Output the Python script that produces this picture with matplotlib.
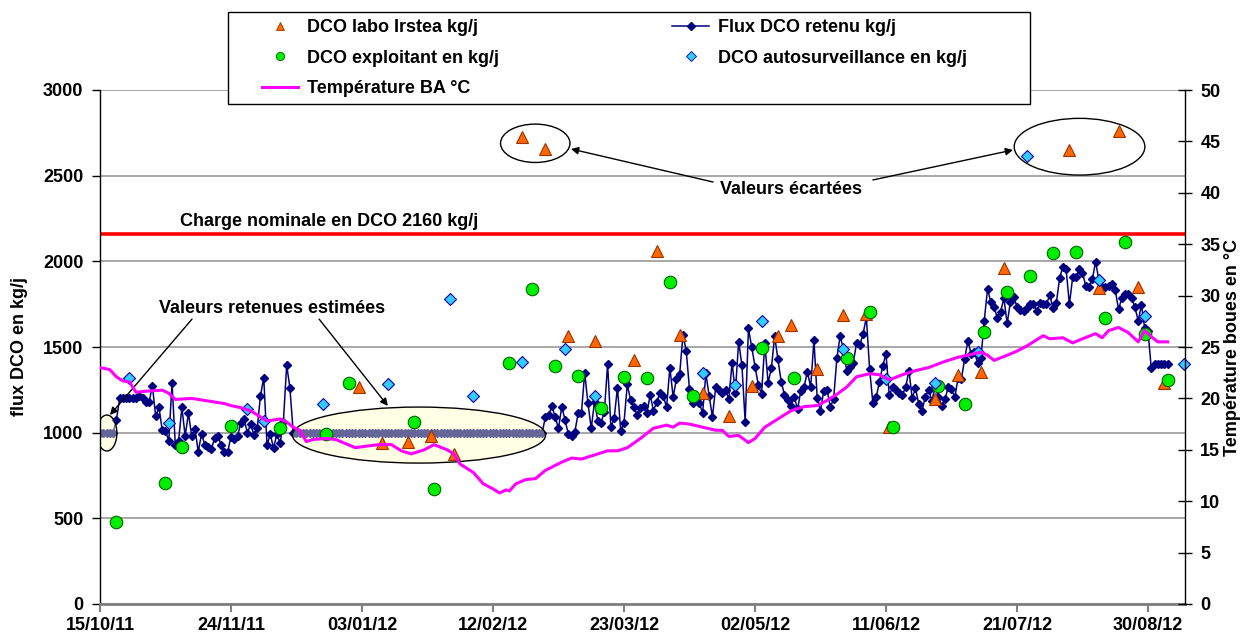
import numpy as np
import pandas as pd
import matplotlib
matplotlib.use("Agg")
import matplotlib.pyplot as plt
import matplotlib.dates as mdates
from matplotlib.ticker import FixedLocator
from matplotlib.lines import Line2D
from matplotlib.patches import Ellipse, Rectangle

plt.rcParams['font.family'] = ['Liberation Sans', 'DejaVu Sans']
plt.rcParams['font.weight'] = 'bold'
FS = 13

# ── data (jours depuis le 15/10/11) ──
START = pd.Timestamp('2011-10-15')

flux_measured_1 = [1000, 1000, 1000, 1000, 1000, 1074,
                   1200, 1200, 1200, 1200, 1200, 1200,
                   1216, 1200, 1181, 1181, 1272, 1097, 1148, 1016, 1010, 953,
                   1288, 928, 953, 1148, 981, 1113, 981, 1021, 889, 992,
                   928, 918, 905, 967, 981, 928, 889, 889, 977, 961,
                   981, 1058, 1078, 1000, 1049, 986, 1025, 1216, 1321, 928,
                   992, 909, 992, 938, 1064, 1395, 1259]
flux_estimated = [1000] * 77
flux_measured_2 = [1090, 1103, 1156, 1090, 1025, 1152, 1074, 992, 983, 1006,
                   1113, 1113, 1350, 1171, 1025, 1181, 1070, 1058, 1122, 1401,
                   1031, 1084, 1263, 1012, 1058, 1282, 1191, 1148, 1103, 1142,
                   1156, 1117, 1220, 1128, 1181, 1233, 1214, 1148, 1379, 1210,
                   1311, 1342, 1570, 1479, 1253, 1175, 1195, 1175, 1113, 1346,
                   1214, 1093, 1265, 1249, 1230, 1249, 1195, 1408, 1233, 1531,
                   1395, 1064, 1609, 1498, 1385, 1278]
flux_measured_3 = [1226, 1521, 1292, 1376, 1564, 1428, 1298, 1220, 1191, 1156,
                   1210, 1136, 1245, 1269, 1356, 1265, 1541, 1201, 1128, 1245,
                   1249, 1152, 1195, 1434, 1564, 1487, 1362, 1385, 1408, 1521,
                   1512, 1576, 1673, 1370, 1171, 1206, 1298, 1389, 1459, 1220,
                   1265, 1249, 1233, 1220, 1265, 1362, 1201, 1259, 1167, 1128,
                   1210, 1249, 1187, 1265, 1210, 1156, 1195, 1265, 1253, 1206,
                   1317, 1311, 1428, 1537, 1459, 1473, 1405, 1434]
flux_measured_4 = [1654, 1837, 1765, 1732, 1671, 1707, 1784, 1638, 1765, 1794,
                   1735, 1716, 1712, 1726, 1751, 1751, 1712, 1755, 1751, 1751,
                   1803, 1726, 1755, 1901, 1969, 1953, 1749, 1907, 1911, 1953,
                   1934, 1856, 1852, 1895, 1998, 1891, 1852, 1852, 1856, 1868,
                   1833, 1720, 1784, 1809, 1809, 1784, 1732, 1654, 1745, 1609,
                   1595, 1376, 1401, 1401, 1401, 1401, 1401]
flux = flux_measured_1 + flux_estimated + flux_measured_2 + flux_measured_3 + flux_measured_4

labo_days = [79, 86, 94, 101, 108, 129, 136, 143, 151, 163, 170, 177, 184, 192,
             199, 207, 211, 219, 227, 234, 241, 255, 262, 269, 276, 296, 305,
             311, 317, 325]
labo_vals = [1268, 941, 947, 981, 875, 2724, 2656, 1562, 1534, 1424, 2062, 1570,
             1233, 1100, 1272, 1567, 1628, 1371, 1685, 1694, 1033, 1198, 1337,
             1356, 1963, 2650, 1843, 2761, 1848, 1292]

expl_days = [5, 20, 25, 40, 55, 69, 76, 96, 102, 125, 132, 139, 146, 153, 160,
             167, 174, 181, 202, 212, 228, 235, 242, 256, 264, 270, 277, 284,
             291, 298, 307, 313, 319, 326]
expl_vals = [481, 704, 918, 1039, 1025, 992, 1288, 1064, 669, 1408, 1837, 1389,
             1331, 1142, 1323, 1317, 1881, 1214, 1494, 1321, 1434, 1703, 1035,
             1272, 1167, 1590, 1819, 1912, 2046, 2054, 1668, 2111, 1573, 1305]

auto_days = [9, 21, 45, 50, 68, 88, 107, 114, 129, 142, 151, 184, 194, 202, 227,
             240, 255, 268, 283, 305, 319, 331]
auto_vals = [1321, 1058, 1136, 1068, 1167, 1282, 1778, 1216, 1414, 1487, 1212,
             1348, 1280, 1651, 1489, 1312, 1292, 1473, 2615, 1891, 1682, 1401]

temp_days = [0, 3, 5, 7, 9, 11, 14, 19, 21, 23, 28, 32, 38, 40, 43, 46, 48, 51,
             55, 57, 59, 61, 63, 65, 69, 72, 75, 78, 80, 85, 89, 92, 95, 99,
             102, 106, 108, 110, 114, 117, 120, 122, 124, 125, 127, 130, 133,
             136, 141, 144, 147, 151, 155, 158, 161, 165, 169, 173, 175, 177,
             180, 184, 188, 190, 192, 195, 198, 200, 203, 207, 211, 215, 219,
             222, 225, 228, 231, 235, 238, 241, 245, 249, 253, 258, 262, 265,
             269, 271, 273, 277, 280, 283, 288, 290, 294, 297, 300, 304, 306,
             308, 311, 314, 316, 317, 319, 321, 323, 326]
temp_vals = [23.0, 22.8, 22.1, 21.7, 21.6, 20.6, 20.7, 20.8, 20.5, 19.9, 20.0,
             19.8, 19.5, 19.3, 19.1, 18.8, 18.4, 17.8, 18.0, 17.7, 17.2, 16.9,
             15.8, 16.0, 16.1, 16.0, 15.6, 15.2, 15.3, 15.5, 15.5, 14.9, 14.6,
             15.0, 15.5, 15.0, 14.6, 13.6, 12.8, 11.7, 11.2, 10.8, 11.1, 11.0,
             11.7, 12.1, 12.2, 13.0, 13.8, 14.2, 14.1, 14.5, 14.9, 14.9, 15.2,
             16.1, 17.1, 17.4, 17.2, 17.6, 17.5, 17.2, 16.9, 16.9, 16.3, 16.4,
             15.7, 16.1, 17.2, 18.0, 18.8, 19.2, 19.3, 19.8, 20.4, 21.1, 22.1,
             22.4, 22.3, 21.8, 22.3, 22.7, 23.0, 23.6, 24.0, 24.2, 24.5, 24.2,
             23.7, 24.2, 24.6, 25.1, 26.1, 25.8, 25.9, 25.4, 25.8, 26.3, 25.9,
             26.6, 26.9, 26.4, 25.8, 25.5, 26.6, 26.0, 25.5, 25.5]

CHARGE_NOMINALE = 2160
tick_dates = pd.date_range(START, periods=9, freq='40D')


def d2x(days):
    return mdates.date2num(START + pd.to_timedelta(days, unit='D'))


flux_dates = START + pd.to_timedelta(np.arange(len(flux)), unit='D')
labo_dates = START + pd.to_timedelta(labo_days, unit='D')
expl_dates = START + pd.to_timedelta(expl_days, unit='D')
auto_dates = START + pd.to_timedelta(auto_days, unit='D')
temp_dates = START + pd.to_timedelta(temp_days, unit='D')

# ── figure ──
fig = plt.figure(figsize=(12.48, 6.44), dpi=100)
ax = fig.add_axes([100 / 1248, 40 / 644, 1085 / 1248, 514 / 644])
ax2 = ax.twinx()

ax.set_xlim(d2x(0), d2x(331.3))
ax.set_ylim(0, 3000)
ax.set_yticks(np.arange(0, 3001, 500))
ax.yaxis.grid(True, color='#a0a0a0', lw=1.3)
ax.set_axisbelow(True)

ax.axhline(CHARGE_NOMINALE, color='#ff0000', lw=2.6, zorder=1.5)

ax.plot(flux_dates, flux, color='#000080', lw=1.1, marker='D', ms=4.2,
        zorder=2, label='Flux DCO retenu kg/j')

# ellipses "valeurs retenues estimées"
ax.add_patch(Ellipse((d2x(2.1), 998), 6.1, 210, fc=(1, 1, 0.75, 0.4),
                     ec='black', lw=1, zorder=2.5))
ax.add_patch(Ellipse((d2x(97.4), 986), 77.3, 327, fc=(1, 1, 0.75, 0.4),
                     ec='black', lw=1, zorder=2.5))
# ellipses "valeurs écartées"
ax.add_patch(Ellipse((d2x(132.9), 2689), 21.2, 224, fc='none', ec='black',
                     lw=1, zorder=2.5))
ax.add_patch(Ellipse((d2x(299.1), 2669), 39.9, 331, fc='none', ec='black',
                     lw=1, zorder=2.5))

ax.plot(labo_dates, labo_vals, ls='none', marker='^', ms=9, mfc='#ff6600',
        mec='#993300', mew=0.8, zorder=3, clip_on=False)
ax.plot(expl_dates, expl_vals, ls='none', marker='o', ms=9, mfc='#00ee00',
        mec='#006600', mew=0.8, zorder=3, clip_on=False)
ax.plot(auto_dates, auto_vals, ls='none', marker='D', ms=6.5, mfc='#33ccff',
        mec='#0000aa', mew=0.8, zorder=3, clip_on=False)

ax2.plot(temp_dates, temp_vals, color='#ff00ff', lw=2.2)
ax2.set_ylim(0, 50)
ax2.set_yticks(np.arange(0, 51, 5))

# ── annotations ──
arrow = dict(arrowstyle='-|>', color='black', lw=1, mutation_scale=11,
             shrinkA=0, shrinkB=0)
ax.text(d2x(24.4), 2206, 'Charge nominale en DCO 2160 kg/j', fontsize=FS,
        fontweight='bold', va='baseline', ha='left')
ax.text(d2x(211), 2422, 'Valeurs écartées', fontsize=FS, fontweight='bold',
        va='center', ha='center')
ax.annotate('', xy=(d2x(143.8), 2656), xytext=(d2x(187.2), 2463), arrowprops=arrow)
ax.annotate('', xy=(d2x(278.8), 2650), xytext=(d2x(236), 2475), arrowprops=arrow)
ax.text(d2x(52.4), 1722, 'Valeurs retenues estimées', fontsize=FS,
        fontweight='bold', va='center', ha='center')
ax.annotate('', xy=(d2x(3.05), 1103), xytext=(d2x(28.1), 1663), arrowprops=arrow)
ax.annotate('', xy=(d2x(87.9), 1156), xytext=(d2x(66.9), 1663), arrowprops=arrow)

# ── axes style ──
ax.xaxis.set_major_locator(FixedLocator(mdates.date2num(tick_dates)))
ax.xaxis.set_major_formatter(mdates.DateFormatter('%d/%m/%y'))

for s in ['top', 'right']:
    ax.spines[s].set_visible(False)
for s in ['top', 'left', 'bottom']:
    ax2.spines[s].set_visible(False)
ax.spines['bottom'].set_color('#808080')
ax.spines['bottom'].set_linewidth(2)
ax.spines['left'].set_linewidth(1)
ax2.spines['right'].set_linewidth(1)

ax.tick_params(axis='y', direction='out', length=6, width=1, pad=6, labelsize=FS)
ax.tick_params(axis='x', direction='out', length=6, width=1.5, color='#808080',
               pad=3, labelsize=FS)
ax2.tick_params(axis='y', direction='inout', length=10, width=1, pad=6,
                labelsize=FS)
for lab in ax.get_xticklabels() + ax.get_yticklabels() + ax2.get_yticklabels():
    lab.set_fontweight('bold')

ax.set_ylabel('flux DCO en kg/j', fontsize=FS, fontweight='bold')
ax.yaxis.set_label_coords(-0.066, 0.5)
ax2.set_ylabel('Température boues en °C', fontsize=FS, fontweight='bold')
ax2.yaxis.set_label_coords(1.036, 0.5)

# ── legend ──
handles = [
    Line2D([], [], ls='none', marker='^', ms=6, mfc='#ff6600', mec='#993300', mew=0.6),
    Line2D([], [], ls='none', marker='o', ms=6, mfc='#00ee00', mec='#006600', mew=0.6),
    Line2D([], [], color='#ff00ff', lw=2.2),
    Line2D([], [], color='#000080', lw=1.1, marker='D', ms=4),
    Line2D([], [], ls='none', marker='D', ms=5, mfc='#33ccff', mec='#0000aa', mew=0.6),
]
labels = ['DCO labo Irstea kg/j', 'DCO exploitant en kg/j', 'Température BA °C',
          'Flux DCO retenu kg/j', 'DCO autosurveillance en kg/j']
fig.add_artist(Rectangle((228 / 1248, 1 - 104 / 644), (1030 - 228) / 1248, 92 / 644,
                         transform=fig.transFigure, fc='white', ec='black', lw=1,
                         zorder=5))
leg = fig.legend(handles, labels, loc='upper left',
                 bbox_to_anchor=(262 / 1248, 1 - 19 / 644), ncol=2, frameon=False,
                 prop={'weight': 'bold', 'size': FS},
                 handlelength=2.0, handletextpad=0.5, columnspacing=9.6,
                 labelspacing=0.75, borderpad=0, borderaxespad=0)
leg.set_zorder(6)

fig.savefig('out.png', dpi=100)
